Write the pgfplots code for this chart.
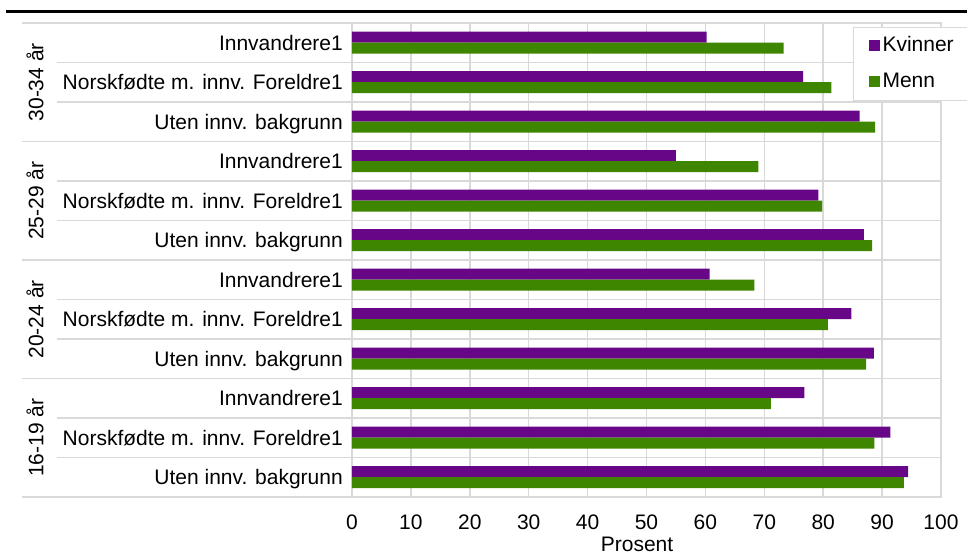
\documentclass[border=0pt]{standalone}
\usepackage{fontspec}
\setmainfont{Liberation Sans}
\usepackage{pgfplots}
\pgfplotsset{compat=1.18}
\definecolor{kv}{RGB}{104,6,136}
\definecolor{me}{RGB}{62,133,0}
\definecolor{gridgray}{RGB}{217,217,217}
\newcommand{\ff}{\fontsize{21pt}{25pt}\selectfont}
\begin{document}
\begin{tikzpicture}[x=1pt,y=1pt]
\useasboundingbox (0,0) rectangle (967,556);
\draw[line width=3pt] (6,544) -- (967,544);
\begin{axis}[
  at={(352pt,59pt)}, anchor=south west,
  scale only axis, width=589pt, height=474pt,
  xmin=0, xmax=100, ymin=0.5, ymax=12.5,
  xbar, bar width=11pt,
  xtick={0,10,...,100},
  ytick={1,...,12},
  yticklabels={Uten innv. bakgrunn,Norskfødte m. innv. Foreldre1,Innvandrere1,
               Uten innv. bakgrunn,Norskfødte m. innv. Foreldre1,Innvandrere1,
               Uten innv. bakgrunn,Norskfødte m. innv. Foreldre1,Innvandrere1,
               Uten innv. bakgrunn,Norskfødte m. innv. Foreldre1,Innvandrere1},
  minor ytick={1.5,2.5,...,11.5},
  xmajorgrids, yminorgrids,
  major tick length=0pt, minor tick length=0pt,
  grid style={gridgray, line width=1.5pt},
  minor grid style={gridgray, line width=1.5pt},
  axis line style={gridgray, line width=1.5pt},
  /pgf/number format/assume math mode=true,
  ticklabel style={font=\ff},
  yticklabel style={anchor=base east, inner sep=0pt, xshift=-9pt, yshift=-7.5pt},
  xticklabel style={anchor=base, inner sep=0pt, yshift=-33pt},
  xlabel={Prosent},
  xlabel style={font=\ff, at={(axis description cs:0.484,0)}, anchor=base, inner sep=0pt, yshift=-55pt},
  legend style={at={(0.8506,0.9916)}, anchor=north west, draw=gridgray, line width=1pt, fill=white,
     font=\ff, inner xsep=15pt, inner ysep=9pt, row sep=17pt, legend cell align=left,
     nodes={inner xsep=3pt, inner ysep=0pt, text height=15pt, text depth=4pt}},
  legend image code/.code={\fill[#1,draw=none] (0pt,-5.5pt) rectangle (11pt,5.5pt);},
  clip=false,
]
\addplot[fill=kv, draw=none, bar shift=5.5pt] coordinates {
 (94.4,1) (91.4,2) (76.8,3)
 (88.6,4) (84.8,5) (60.7,6)
 (86.9,7) (79.2,8) (55.0,9)
 (86.2,10) (76.6,11) (60.2,12)};
\addlegendentry{Kvinner}
\addplot[fill=me, draw=none, bar shift=-5.5pt] coordinates {
 (93.7,1) (88.7,2) (71.1,3)
 (87.3,4) (80.8,5) (68.3,6)
 (88.3,7) (79.8,8) (69.0,9)
 (88.8,10) (81.4,11) (73.3,12)};
\addlegendentry{Menn}
% separators in the label area
\draw[gridgray, line width=1.5pt] ([xshift=-330pt]axis cs:0,0.5) -- (axis cs:0,0.5);
\draw[gridgray, line width=1.5pt] ([xshift=-330pt]axis cs:0,3.5) -- (axis cs:0,3.5);
\draw[gridgray, line width=1.5pt] ([xshift=-330pt]axis cs:0,6.5) -- (axis cs:0,6.5);
\draw[gridgray, line width=1.5pt] ([xshift=-330pt]axis cs:0,9.5) -- (axis cs:0,9.5);
\draw[gridgray, line width=1.5pt] ([xshift=-330pt]axis cs:0,12.5) -- (axis cs:0,12.5);
\draw[gridgray, line width=1.5pt] ([xshift=-295pt]axis cs:0,1.5) -- (axis cs:0,1.5);
\draw[gridgray, line width=1.5pt] ([xshift=-295pt]axis cs:0,2.5) -- (axis cs:0,2.5);
\draw[gridgray, line width=1.5pt] ([xshift=-295pt]axis cs:0,4.5) -- (axis cs:0,4.5);
\draw[gridgray, line width=1.5pt] ([xshift=-295pt]axis cs:0,5.5) -- (axis cs:0,5.5);
\draw[gridgray, line width=1.5pt] ([xshift=-295pt]axis cs:0,7.5) -- (axis cs:0,7.5);
\draw[gridgray, line width=1.5pt] ([xshift=-295pt]axis cs:0,8.5) -- (axis cs:0,8.5);
\draw[gridgray, line width=1.5pt] ([xshift=-295pt]axis cs:0,10.5) -- (axis cs:0,10.5);
\draw[gridgray, line width=1.5pt] ([xshift=-295pt]axis cs:0,11.5) -- (axis cs:0,11.5);
\node[rotate=90, font=\ff] at ([xshift=-317pt]axis cs:0,11) {30-34 år};
\node[rotate=90, font=\ff] at ([xshift=-317pt]axis cs:0,8) {25-29 år};
\node[rotate=90, font=\ff] at ([xshift=-317pt]axis cs:0,5) {20-24 år};
\node[rotate=90, font=\ff] at ([xshift=-317pt]axis cs:0,2) {16-19 år};
\end{axis}
\end{tikzpicture}
\end{document}
